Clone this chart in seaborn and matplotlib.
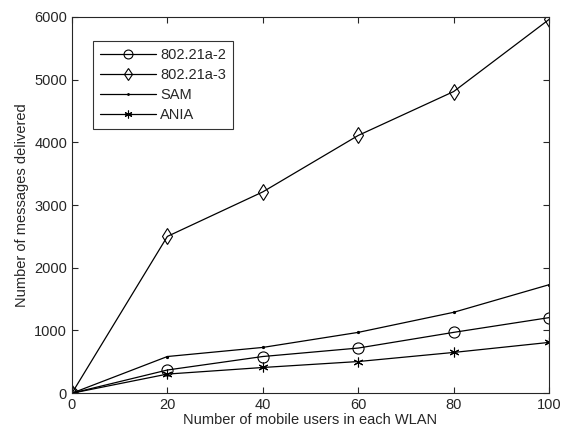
import numpy as np
import pandas as pd
import matplotlib
matplotlib.use("Agg")
import matplotlib.pyplot as plt
import seaborn as sns

# data
users = [0, 20, 40, 60, 80, 100]
a2 = [0, 370, 585, 720, 970, 1205]
a3 = [0, 2500, 3210, 4110, 4810, 5960]
sam = [0, 585, 730, 970, 1290, 1730]
ania = [0, 305, 410, 505, 650, 810]
names = ["802.21a-2", "802.21a-3", "SAM", "ANIA"]

df = pd.DataFrame({
    "x": users * 4,
    "y": a2 + a3 + sam + ania,
    "scheme": np.repeat(names, len(users)),
})

sns.set_style("ticks")
plt.rcParams["font.family"] = ["Liberation Sans", "DejaVu Sans"]

fig = plt.figure(figsize=(5.62, 4.34), dpi=100)
ax = fig.add_axes([0.128, 0.094, 0.849, 0.867])

markers = {"802.21a-2": "o", "802.21a-3": "d", "SAM": ".", "ANIA": (6, 2, 0)}
sizes = {"802.21a-2": 8, "802.21a-3": 8, "SAM": 3, "ANIA": 7}
faces = {"802.21a-2": "none", "802.21a-3": "none", "SAM": "black", "ANIA": "none"}

for name in names:
    sub = df[df["scheme"] == name]
    sns.lineplot(data=sub, x="x", y="y", ax=ax, color="black", lw=0.9,
                 marker=markers[name], markersize=sizes[name],
                 markerfacecolor=faces[name], markeredgecolor="black",
                 markeredgewidth=0.8, label=name)

ax.set_xlim(0, 100)
ax.set_ylim(0, 6000)
ax.set_xticks(range(0, 101, 20))
ax.set_yticks(range(0, 6001, 1000))
ax.tick_params(direction="in", top=True, right=True, labelsize=10.5, length=4)
for s in ax.spines.values():
    s.set_visible(True)
    s.set_linewidth(0.8)
ax.set_xlabel("Number of mobile users in each WLAN", fontsize=10.5, labelpad=1)
ax.set_ylabel("Number of messages delivered", fontsize=10.5, labelpad=4)

leg = ax.legend(loc="upper left", bbox_to_anchor=(0.044, 0.936), fontsize=10.5,
                handlelength=3.8, frameon=True, fancybox=False,
                edgecolor="black", borderpad=0.5, labelspacing=0.4,
                handletextpad=0.3, borderaxespad=0, markerscale=0.8)
leg.get_frame().set_linewidth(0.8)

plt.savefig("out.png", dpi=100)
